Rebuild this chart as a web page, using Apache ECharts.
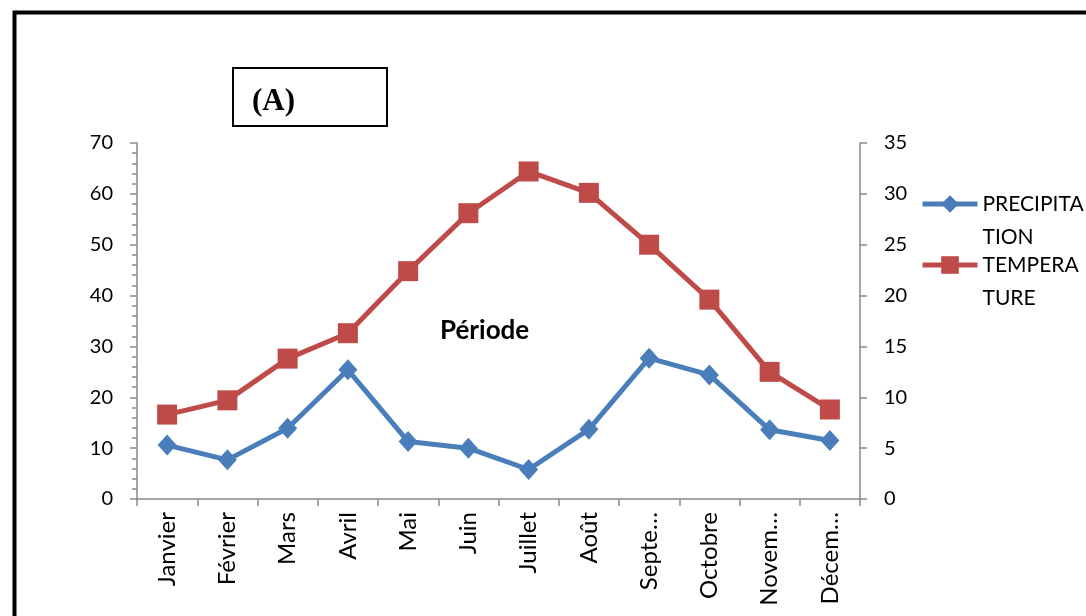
<!DOCTYPE html>
<html>
<head>
<meta charset="utf-8">
<script src="https://cdn.jsdelivr.net/npm/echarts@6/dist/echarts.min.js"></script>
<style>
html,body{margin:0;padding:0;background:#fff;}
#chart{width:1086px;height:616px;}
</style>
</head>
<body>
<div id="chart"></div>
<script>
// ---- data ----
var months = ['Janvier','Février','Mars','Avril','Mai','Juin','Juillet','Août','Septembre','Octobre','Novembre','Décembre'];
var precipitation = [10.6, 7.7, 13.9, 25.4, 11.3, 10.0, 5.8, 13.7, 27.7, 24.4, 13.6, 11.5];
var temperature = [8.3, 9.7, 13.8, 16.3, 22.4, 28.1, 32.2, 30.1, 25.0, 19.6, 12.5, 8.8];
var seriesNames = ['PRECIPITATION', 'TEMPERATURE'];
var legendLabels = ['PRECIPITA\nTION', 'TEMPERA\nTURE'];
var leftTicks = [0, 70, 10];
var rightTicks = [0, 35, 5];
var panelTitle = '(A)';
var axisName = 'Période';

var chart = echarts.init(document.getElementById('chart'), null, {renderer: 'canvas'});
var FONT = 'Lato';
var AXIS = '#898989';
var BLUE = '#4A7EBB';
var RED = '#BE4B48';

// leading blank line keeps the icon level with the first text line
function legendFmt(name){ return ' \n' + legendLabels[seriesNames.indexOf(name)]; }
var legendText = {fontFamily: FONT, fontSize: 21, color: '#000', lineHeight: 33};

var option = {
  animation: false,
  backgroundColor: '#fff',
  grid: {left: 137, right: 226, top: 143, bottom: 117, containLabel: false},
  legend: [
    {data: [seriesNames[0]], left: 920, top: 154.5, padding: 0, itemWidth: 55, itemHeight: 22,
     formatter: legendFmt, textStyle: legendText, lineStyle: {width: 5}},
    {data: [seriesNames[1]], left: 920, top: 215.5, padding: 0, itemWidth: 55, itemHeight: 22,
     formatter: legendFmt, textStyle: legendText, lineStyle: {width: 5}}
  ],
  xAxis: {
    type: 'category', data: months, boundaryGap: true,
    axisLine: {lineStyle: {color: AXIS, width: 1.5}},
    axisTick: {show: true, length: 7, alignWithLabel: false, interval: 0, lineStyle: {color: AXIS, width: 1.5}},
    axisLabel: {interval: 0, rotate: 90, margin: 13, fontFamily: FONT, fontSize: 24, color: '#000',
      width: 97, overflow: 'truncate', ellipsis: '…'},
    splitLine: {show: false}
  },
  yAxis: [
    {type: 'value', min: leftTicks[0], max: leftTicks[1], interval: leftTicks[2], position: 'left',
     axisLine: {show: true, lineStyle: {color: AXIS, width: 1.5}},
     axisTick: {show: true, length: 7, lineStyle: {color: AXIS, width: 1.5}},
     minorTick: {show: true, splitNumber: 5, length: 5, lineStyle: {color: AXIS, width: 1.5}},
     axisLabel: {margin: 24, fontFamily: FONT, fontSize: 20, color: '#000'},
     splitLine: {show: false}},
    {type: 'value', min: rightTicks[0], max: rightTicks[1], interval: rightTicks[2], position: 'right',
     axisLine: {show: true, lineStyle: {color: AXIS, width: 1.5}},
     axisTick: {show: true, length: 7, lineStyle: {color: AXIS, width: 1.5}},
     axisLabel: {margin: 24, fontFamily: FONT, fontSize: 20, color: '#000'},
     splitLine: {show: false}}
  ],
  series: [
    {name: seriesNames[0], type: 'line', yAxisIndex: 0, data: precipitation,
     symbol: 'diamond', symbolSize: [19, 21], showAllSymbol: true,
     lineStyle: {color: BLUE, width: 5}, itemStyle: {color: BLUE}, z: 3},
    {name: seriesNames[1], type: 'line', yAxisIndex: 1, data: temperature,
     symbol: 'rect', symbolSize: 20, showAllSymbol: true,
     lineStyle: {color: RED, width: 5}, itemStyle: {color: RED}, z: 2}
  ],
  graphic: [
    {type: 'rect', left: 12, top: 10, z: 0, silent: true,
     shape: {width: 1100, height: 640}, style: {fill: 'none', stroke: '#000', lineWidth: 4}},
    {type: 'rect', left: 232, top: 67, z: 10, silent: true,
     shape: {width: 154, height: 58}, style: {fill: '#fff', stroke: '#000', lineWidth: 2}},
    {type: 'text', left: 252, top: 86, z: 11, silent: true,
     style: {text: panelTitle, font: 'bold 31px "Liberation Serif", serif', fill: '#000'}},
    {type: 'text', left: 440, top: 318, z: 11, silent: true,
     style: {text: axisName, font: 'bold 26px Lato, sans-serif', fill: '#000'}}
  ]
};
chart.setOption(option);
</script>
</body>
</html>
